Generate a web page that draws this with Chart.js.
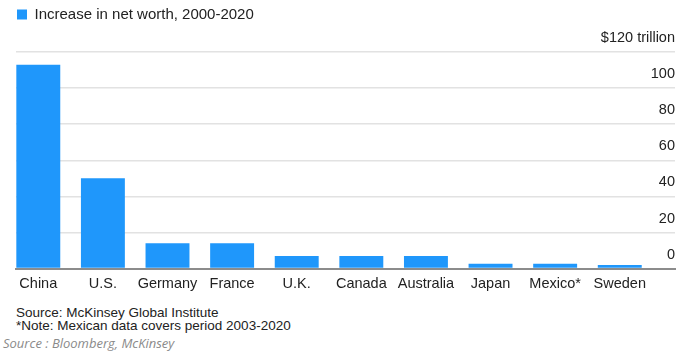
<!DOCTYPE html>
<html>
<head>
<meta charset="utf-8">
<script src="https://cdn.jsdelivr.net/npm/chart.js@4"></script>
<style>
  html, body { margin: 0; padding: 0; background: #fff; }
  body { width: 688px; height: 363px; position: relative; overflow: hidden; font-family: "Liberation Sans", Arial, sans-serif; }
  #wrap { position: absolute; left: 0; top: 0; width: 688px; height: 300px; }
  .note { position: absolute; left: 16px; font-size: 13.5px; color: #222; white-space: nowrap; line-height: 14px; }
  #src { position: absolute; left: 3px; top: 334px; font-family: "Open Sans", sans-serif; font-style: italic; font-size: 13px; color: #8a8a8a; white-space: nowrap; }
</style>
</head>
<body>
<div id="wrap"><canvas id="chartCanvas"></canvas></div>
<div class="note" style="top:306px">Source: McKinsey Global Institute</div>
<div class="note" style="top:319px">*Note: Mexican data covers period 2003-2020</div>
<div id="src">Source : Bloomberg, McKinsey</div>

<script>
const countries = ["China", "U.S.", "Germany", "France", "U.K.", "Canada", "Australia", "Japan", "Mexico*", "Sweden"];
const netWorthIncrease = [113, 50, 14, 14, 7, 7, 7, 2.7, 2.7, 2];
const yTicks = [0, 20, 40, 60, 80, 100, 120];
const seriesLabel = "Increase in net worth, 2000-2020";

const blue = "#1f97fb";
const ctx = document.getElementById("chartCanvas").getContext("2d");

// add some room under the legend
const legendGap = {
  id: "legendGap",
  beforeInit(chart) {
    const fit = chart.legend.fit;
    chart.legend.fit = function () {
      fit.bind(chart.legend)();
      this.height += 20;
    };
  }
};

new Chart(ctx, {
  type: "bar",
  data: {
    datasets: [{
      label: seriesLabel,
      data: netWorthIncrease.map((v, i) => ({ x: i, y: v })),
      backgroundColor: blue,
      borderWidth: 0,
      categoryPercentage: 1,
      barPercentage: 0.68
    }]
  },
  options: {
    responsive: true,
    maintainAspectRatio: false,
    animation: false,
    layout: { padding: { left: 16, right: 13, top: 6, bottom: 0 } },
    plugins: {
      tooltip: { enabled: false },
      legend: {
        position: "top",
        align: "start",
        labels: {
          boxWidth: 10,
          boxHeight: 10,
          padding: 1,
          color: "#222",
          font: { family: "Liberation Sans", size: 15 }
        }
      }
    },
    scales: {
      x: {
        type: "linear",
        offset: false,
        min: -0.345,
        max: 9.855,
        afterBuildTicks: (scale) => {
          scale.ticks = countries.map((_, i) => ({ value: i }));
        },
        grid: { display: false, drawTicks: false },
        border: { display: true, color: "#8c8c8c", width: 2 },
        ticks: {
          autoSkip: false,
          maxRotation: 0,
          padding: 7,
          color: "#222",
          font: { family: "Liberation Sans", size: 14.5 },
          callback: (v) => countries[v]
        }
      },
      y: {
        position: "right",
        min: 0,
        max: 120,
        afterBuildTicks: (scale) => {
          scale.ticks = yTicks.map(v => ({ value: v }));
        },
        grid: { color: "#e2e2e2", lineWidth: 1.5, drawTicks: false },
        border: { display: false },
        ticks: {
          mirror: true,
          padding: 0,
          labelOffset: -14,
          color: "#222",
          font: { family: "Liberation Sans", size: 14.5 },
          callback: (v) => v === 120 ? "$120 trillion" : v
        }
      }
    }
  },
  plugins: [legendGap]
});
</script>
</body>
</html>
